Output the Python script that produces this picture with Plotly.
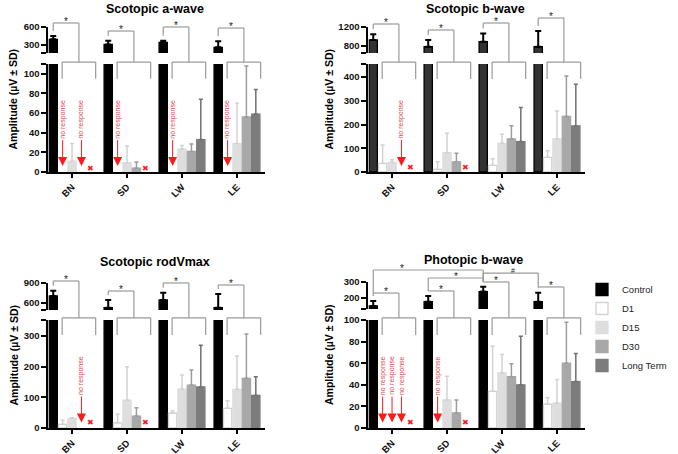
import plotly.graph_objects as go

# ---------------- data ----------------
SITES = ["BN", "SD", "LW", "LE"]
GROUPS = ["Control", "D1", "D15", "D30", "Long Term"]
NR = "no response"   # red arrow + "no response"
ND = "n.d."          # red cross

# Scotopic a-wave  (rows: Control, D1, D15, D30, Long Term; cols: BN, SD, LW, LE)
AWAVE_MEAN = [[395, 310, 345, 262], [NR, NR, NR, NR], [11, 9.5, 23.4, 29],
              [NR, 3.8, 21, 56], [ND, ND, 33, 59]]
AWAVE_SD = [[55, 60, 27, 100], [0, 0, 0, 0], [18, 17, 3.7, 41],
            [0, 6.5, 7.5, 52], [0, 0, 41, 25]]
# Scotopic b-wave
BWAVE_MEAN = [[926, 785, 890, 785], [36, 11, 28, 62], [40, 81, 121, 139],
              [NR, 43, 139, 234], [ND, ND, 128, 194]]
BWAVE_SD = [[120, 140, 175, 330], [78, 32, 28, 28], [12, 82, 38, 118],
            [0, 36, 56, 170], [0, 0, 144, 176]]
# Scotopic rodVmax
ROD_MEAN = [[705, 530, 645, 530], [12, 17, 48, 64], [31, 91, 127, 126],
            [NR, 39, 140, 162], [ND, ND, 134, 106]]
ROD_SD = [[80, 115, 110, 205], [14, 28, 7, 25], [2, 109, 46, 109],
          [0, 27, 49, 144], [0, 0, 136, 61]]
# Photopic b-wave
PHOT_MEAN = [[150, 177, 240, 177], [NR, NR, 34, 22], [NR, 26, 51, 23],
             [NR, 14, 47.5, 60], [ND, ND, 40, 43]]
PHOT_SD = [[31, 35, 31, 56], [0, 0, 42, 6], [0, 22, 17, 22],
           [0, 12, 12, 38], [0, 0, 45, 26]]

# significance brackets: top level (upper-axis units) per site
AWAVE_BR = [667, 533, 600, 583]
BWAVE_BR = [1263, 1137, 1284, 1389]
ROD_BR = [930, 780, 900, 870]
PHOT_BR = [231, 244, 300, 269]
# extra photopic comparisons: (site a, site b, level, label, label position)
PHOT_EXTRA = [(0, 2, 375, "*", 0.26), (1, 2, 325, "*", 0.5), (2, 3, 356, "#", 0.55)]

# ---------------- styling / geometry ----------------
W, H = 678, 454
FONT = "Liberation Sans, Arial, sans-serif"
XR = [-0.43, 3.5]
BARGAP = 0.145
GROUPGAP = 0.12
SLOT = (1 - BARGAP) / 5
FILL = ["#000000", "#ffffff", "#dedede", "#a8a8a8", "#7c7c7c"]
EDGE = ["#000000", "#d2d2d2", "#dedede", "#a8a8a8", "#7c7c7c"]
ECOL = ["#000000", "#d2d2d2", "#d2d2d2", "#9c9c9c", "#707070"]
RED = "#ff1a1a"
BR_COL = "#9a9a9a"
BR_L, BR_R, BR_MID = -0.18, 0.43, 0.125

PANELS = [
    dict(title="Scotopic a-wave", mean=AWAVE_MEAN, sd=AWAVE_SD, br=AWAVE_BR,
         xdom=(48.4, 264.5), lower=(64, 172), upper=(27, 53),
         lo_range=(0, 110), up_range=(167, 600),
         lo_ticks=[0, 20, 40, 60, 80, 100], up_ticks=[300, 600],
         lo_br=(112, 95), tip=6, cross=4, ctrl="#000000",
         title_pos=(155, 9), ytitle_x=13),
    dict(title="Scotopic b-wave", mean=BWAVE_MEAN, sd=BWAVE_SD, br=BWAVE_BR,
         xdom=(368.4, 584.5), lower=(64, 172), upper=(27, 53),
         lo_range=(0, 455), up_range=(653, 1200),
         lo_ticks=[0, 100, 200, 300, 400], up_ticks=[800, 1200],
         lo_br=(463, 392), tip=25, cross=17, ctrl="#333333",
         title_pos=(475, 9), ytitle_x=329),
    dict(title="Scotopic rodVmax", mean=ROD_MEAN, sd=ROD_SD, br=ROD_BR,
         xdom=(48.4, 264.5), lower=(320, 428), upper=(283, 310),
         lo_range=(0, 352), up_range=(495, 900),
         lo_ticks=[0, 100, 200, 300], up_ticks=[600, 900],
         lo_br=(359, 303), tip=18, cross=17, ctrl="#000000",
         title_pos=(155, 262), ytitle_x=13),
    dict(title="Photopic b-wave", mean=PHOT_MEAN, sd=PHOT_SD, br=PHOT_BR,
         xdom=(368.4, 584.5), lower=(320, 428), upper=(282, 309),
         lo_range=(0, 100), up_range=(131, 300),
         lo_ticks=[0, 20, 40, 60, 80, 100], up_ticks=[200, 300],
         lo_br=(102, 86), tip=5, cross=5, ctrl="#000000",
         title_pos=(473, 260), ytitle_x=329, extra=PHOT_EXTRA),
]
LEGEND_PANEL = 2


def center_off(gi):
    return -0.5 * (1 - BARGAP) + (gi + 0.5) * SLOT


def ypaper(top, bot, rng, v):
    pxv = bot - (v - rng[0]) / (rng[1] - rng[0]) * (bot - top)
    return 1 - pxv / H


def xpaper(P, v):
    l, r = P["xdom"]
    return (l + (v - XR[0]) / (XR[1] - XR[0]) * (r - l)) / W


def is_num(v):
    return isinstance(v, (int, float))


fig = go.Figure()
layout = {}
shapes = []
annotations = []
tickfont = dict(family=FONT, size=9.5, color="#111", weight="bold")

for pi, P in enumerate(PANELS):
    xname = "x" if pi == 0 else f"x{pi + 1}"
    lo_n, up_n = 2 * pi + 1, 2 * pi + 2
    ylo = "y" if lo_n == 1 else f"y{lo_n}"
    yup = f"y{up_n}"

    # axes
    layout["xaxis" if pi == 0 else f"xaxis{pi + 1}"] = dict(
        domain=[P["xdom"][0] / W, P["xdom"][1] / W], range=XR, anchor=ylo,
        showline=True, linecolor="#000", linewidth=2, ticks="outside",
        ticklen=4, tickwidth=2, tickcolor="#000", tickangle=-45,
        tickfont=tickfont, showgrid=False, zeroline=False, fixedrange=True,
        automargin=False)
    lo_vals = list(P["lo_ticks"])
    lo_text = [str(t) for t in lo_vals]
    if P["lo_range"][1] not in lo_vals:
        lo_vals.append(P["lo_range"][1])
        lo_text.append("")
    layout["yaxis" if lo_n == 1 else f"yaxis{lo_n}"] = dict(
        domain=[1 - P["lower"][1] / H, 1 - P["lower"][0] / H],
        range=list(P["lo_range"]), anchor=xname, showline=True,
        linecolor="#000", linewidth=2, ticks="outside", ticklen=5,
        tickwidth=2, tickcolor="#000", tickvals=lo_vals, ticktext=lo_text,
        tickfont=tickfont, showgrid=False, zeroline=False, fixedrange=True,
        automargin=False)
    up_vals = [P["up_range"][0]] + list(P["up_ticks"])
    up_text = [""] + [str(t) for t in P["up_ticks"]]
    layout[f"yaxis{up_n}"] = dict(
        domain=[1 - P["upper"][1] / H, 1 - P["upper"][0] / H],
        range=list(P["up_range"]), anchor=xname, showline=True,
        linecolor="#000", linewidth=2, ticks="outside", ticklen=5,
        tickwidth=2, tickcolor="#000", tickvals=up_vals, ticktext=up_text,
        tickfont=tickfont, showgrid=False, zeroline=False, fixedrange=True,
        automargin=False)

    # bars (drawn in both segments of the broken axis)
    for gi, g in enumerate(GROUPS):
        means = P["mean"][gi]
        sds = P["sd"][gi]
        yv = [m if is_num(m) else None for m in means]
        ev = [s if is_num(m) else None for m, s in zip(means, sds)]
        fill = P["ctrl"] if gi == 0 else FILL[gi]
        for seg, ya in (("lo", ylo), ("up", yup)):
            fig.add_trace(go.Bar(
                x=SITES, y=yv, name=g, xaxis=xname, yaxis=ya,
                offset=-0.5 * (1 - BARGAP) + gi * SLOT + SLOT * GROUPGAP / 2,
                width=SLOT * (1 - GROUPGAP),
                marker=dict(color=fill, line=dict(color=EDGE[gi], width=1.3)),
                error_y=dict(type="data", symmetric=False, array=ev,
                             arrayminus=[0] * len(ev), color=ECOL[gi],
                             thickness=2 if gi == 0 else 1.5,
                             width=3 if gi == 0 else 2),
                legendgroup=g,
                showlegend=(pi == LEGEND_PANEL and seg == "lo"),
                hovertemplate=f"{P['title']}<br>%{{x}} {g}: %{{y}}<extra></extra>"))

        # missing values markers
        for si, m in enumerate(means):
            xc = si + center_off(gi)
            if m == NR:
                annotations.append(dict(
                    x=xc, y=P["tip"], xref=xname, yref=ylo, ax=0, ay=-47,
                    text="no response", textangle=-90, showarrow=True,
                    arrowhead=2, arrowsize=1.8, arrowwidth=1, arrowcolor=RED,
                    font=dict(family=FONT, size=7, color="#e0474c")))
            elif m == ND:
                annotations.append(dict(
                    x=xc, y=P["cross"], xref=xname, yref=ylo, text="✖",
                    showarrow=False,
                    font=dict(family="DejaVu Sans", size=8, color=RED)))

    up_seg = (P["upper"][0], P["upper"][1], P["up_range"])
    lo_seg = (P["lower"][0], P["lower"][1], P["lo_range"])

    def line(x0, y0, x1, y1):
        shapes.append(dict(type="line", xref="paper", yref="paper",
                           x0=x0, y0=y0, x1=x1, y1=y1,
                           line=dict(color=BR_COL, width=1.2)))

    # Control vs. treatment brackets
    ctrl_off = center_off(0)
    for si in range(len(SITES)):
        cm, cs = P["mean"][0][si], P["sd"][0][si]
        cx = xpaper(P, si + ctrl_off)
        mx = xpaper(P, si + BR_MID)
        y_start = ypaper(*up_seg, cm + cs) + 5 / H
        y_top = ypaper(*up_seg, P["br"][si])
        y_low = ypaper(*lo_seg, P["lo_br"][0])
        y_leg = ypaper(*lo_seg, P["lo_br"][1])
        xl, xr = xpaper(P, si + BR_L), xpaper(P, si + BR_R)
        line(cx, y_start, cx, y_top)
        line(cx, y_top, mx, y_top)
        line(mx, y_top, mx, y_low)
        line(xl, y_low, xr, y_low)
        line(xl, y_low, xl, y_leg)
        line(xr, y_low, xr, y_leg)
        annotations.append(dict(x=(cx + mx) / 2, y=y_top, xref="paper", yref="paper",
                                text="*", showarrow=False, xanchor="center",
                                yanchor="bottom", yshift=-5, borderpad=0,
                                font=dict(family=FONT, size=10, color="#222")))

    for (a, b, lvl, lab, t) in P.get("extra", []):
        xa_ = xpaper(P, a + ctrl_off)
        xb_ = xpaper(P, b + ctrl_off)
        yl = ypaper(*up_seg, lvl)
        line(xa_, yl, xb_, yl)
        line(xa_, yl, xa_, ypaper(*up_seg, P["br"][a]))
        line(xb_, yl, xb_, ypaper(*up_seg, P["br"][b]))
        if lab == "*":
            annotations.append(dict(x=xa_ + t * (xb_ - xa_), y=yl, xref="paper",
                                    yref="paper", text=lab, showarrow=False,
                                    xanchor="center", yanchor="bottom", yshift=-5,
                                    borderpad=0,
                                    font=dict(family=FONT, size=10, color="#222")))
        else:
            annotations.append(dict(x=xa_ + t * (xb_ - xa_), y=yl, xref="paper",
                                    yref="paper", text=lab, showarrow=False,
                                    xanchor="center", yanchor="middle", yshift=3,
                                    borderpad=0,
                                    font=dict(family=FONT, size=7, color="#222")))

    # panel title and y-axis title
    annotations.append(dict(x=P["title_pos"][0] / W, y=1 - P["title_pos"][1] / H,
                            xref="paper", yref="paper", text=P["title"], showarrow=False,
                            xanchor="center", yanchor="middle", borderpad=0,
                            font=dict(family=FONT, size=12.5, color="#000", weight="bold")))
    ymid = (P["upper"][0] + P["lower"][1]) / 2
    annotations.append(dict(x=P["ytitle_x"] / W, y=1 - ymid / H, xref="paper", yref="paper",
                            text="Amplitude (µV ± SD)", textangle=-90, showarrow=False,
                            xanchor="center", yanchor="middle",
                            font=dict(family=FONT, size=10.5, color="#000", weight="bold")))

fig.update_layout(
    width=W, height=H, autosize=False,
    margin=dict(l=0, r=0, t=0, b=0, pad=0),
    paper_bgcolor="white", plot_bgcolor="white",
    barmode="overlay",
    shapes=shapes, annotations=annotations,
    legend=dict(x=582 / W, y=1 - 275 / H, xanchor="left", yanchor="top",
                font=dict(family=FONT, size=9.5, color="#222"),
                bgcolor="rgba(0,0,0,0)", tracegroupgap=0),
    **layout,
)

fig.write_html("out.html",
               config={"displayModeBar": False},
               post_script="document.body.style.margin='0px';"
                           "document.body.style.overflow='hidden';")
